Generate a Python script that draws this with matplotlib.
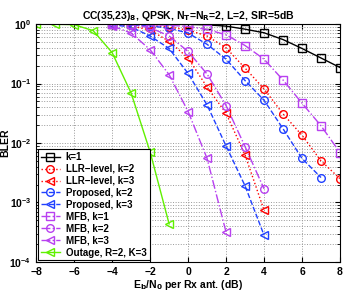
import numpy as np
import matplotlib.pyplot as plt

# Eb/N0 grids
snr_k1 = [-4, -3, -2, -1, 0, 1, 2, 3, 4, 5, 6, 7, 8]
snr_k2 = [-4, -3, -2, -1, 0, 1, 2, 3, 4, 5, 6, 7, 8]
snr_prop_k2 = [-4, -3, -2, -1, 0, 1, 2, 3, 4, 5, 6, 7]
snr_k3 = [-4, -3, -2, -1, 0, 1, 2, 3, 4]
snr_mfb_k1 = [-4, -3, -2, -1, 0, 1, 2, 3, 4, 5, 6, 7, 8]
snr_mfb_k2 = [-4, -3, -2, -1, 0, 1, 2, 3, 4]
snr_mfb_k3 = [-4, -3, -2, -1, 0, 1, 2]
snr_out = [-8, -7, -6, -5, -4, -3, -2, -1]

# log10(BLER)
k1 = [-0.001, -0.002, -0.003, -0.004, -0.005, -0.012, -0.034, -0.085, -0.146, -0.26, -0.41, -0.57, -0.73]
llr_k2 = [-0.002, -0.01, -0.02, -0.05, -0.1, -0.2, -0.4, -0.74, -1.09, -1.51, -1.87, -2.3, -2.6]
llr_k3 = [-0.01, -0.03, -0.1, -0.29, -0.57, -1.06, -1.5, -2.2, -3.13]
prop_k2 = [-0.002, -0.01, -0.03, -0.07, -0.15, -0.34, -0.59, -0.95, -1.28, -1.76, -2.26, -2.58]
prop_k3 = [-0.01, -0.05, -0.2, -0.41, -0.83, -1.36, -2.05, -2.72, -3.55]
mfb_k1 = [-0.001, -0.003, -0.008, -0.02, -0.04, -0.09, -0.18, -0.36, -0.59, -0.94, -1.33, -1.71, -2.16]
mfb_k2 = [-0.002, -0.01, -0.06, -0.2, -0.46, -0.84, -1.37, -2.06, -2.77]
mfb_k3 = [-0.03, -0.15, -0.43, -0.85, -1.47, -2.26, -3.5]
outage = [0.0, -0.002, -0.01, -0.11, -0.48, -1.16, -2.15, -3.36]

plt.rcParams['font.family'] = ['Liberation Sans', 'DejaVu Sans']
plt.rcParams['font.weight'] = 'bold'
plt.rcParams['mathtext.default'] = 'bf'

fig = plt.figure(figsize=(3.48, 2.94), dpi=100)
ax = fig.add_axes([0.104, 0.109, 0.873, 0.809])

red = '#ff0000'
blue = '#2040ff'
purple = '#b840f0'
green = '#60f000'
kw = dict(markerfacecolor='none', markersize=5.5, markeredgewidth=1.0, linewidth=1.0)

ax.semilogy(snr_k1, 10 ** np.array(k1), '-s', color='black', label='k=1', **kw)
ax.semilogy(snr_k2, 10 ** np.array(llr_k2), ':o', color=red, label='LLR\u2212level, k=2', **kw)
ax.semilogy(snr_k3, 10 ** np.array(llr_k3), ':<', color=red, label='LLR\u2212level, k=3', **kw)
ax.semilogy(snr_prop_k2, 10 ** np.array(prop_k2), '--o', color=blue, label='Proposed, k=2', **kw)
ax.semilogy(snr_k3, 10 ** np.array(prop_k3), '--<', color=blue, label='Proposed, k=3', **kw)
ax.semilogy(snr_mfb_k1, 10 ** np.array(mfb_k1), '-.s', color=purple, label='MFB, k=1', **kw)
ax.semilogy(snr_mfb_k2, 10 ** np.array(mfb_k2), '-.o', color=purple, label='MFB, k=2', **kw)
ax.semilogy(snr_mfb_k3, 10 ** np.array(mfb_k3), '-.<', color=purple, label='MFB, k=3', **kw)
ax.semilogy(snr_out, 10 ** np.array(outage), '-<', color=green, label='Outage, R=2, K=3', **kw)

ax.set_xlim(-8, 8)
ax.set_ylim(1e-4, 1)
ax.set_xticks(range(-8, 9, 2))
ax.grid(True, which='major', linestyle=':', color='#999999', linewidth=0.7)
ax.grid(True, which='minor', axis='y', linestyle=':', color='#999999', linewidth=0.7)
ax.tick_params(labelsize=7.5, direction='in', which='both', top=True, right=True)
for s in ax.spines.values():
    s.set_linewidth(0.8)

ax.set_xlabel('E$_b$/N$_0$ per Rx ant. (dB)', fontsize=7.5, fontweight='bold', labelpad=1)
ax.set_ylabel('BLER', fontsize=7.5, fontweight='bold')
ax.yaxis.set_label_coords(-0.085, 0.5)
ax.set_title('CC(35,23)$_8$, QPSK, N$_T$=N$_R$=2, L=2, SIR=5dB', fontsize=7.5, fontweight='bold', pad=4)

leg = ax.legend(loc='lower left', fontsize=7, handlelength=2.0, borderpad=0.3,
                labelspacing=0.2, handletextpad=0.6, fancybox=False, framealpha=1,
                edgecolor='black', borderaxespad=0.15)
leg.get_frame().set_linewidth(0.8)

fig.savefig('out.png', dpi=100)
